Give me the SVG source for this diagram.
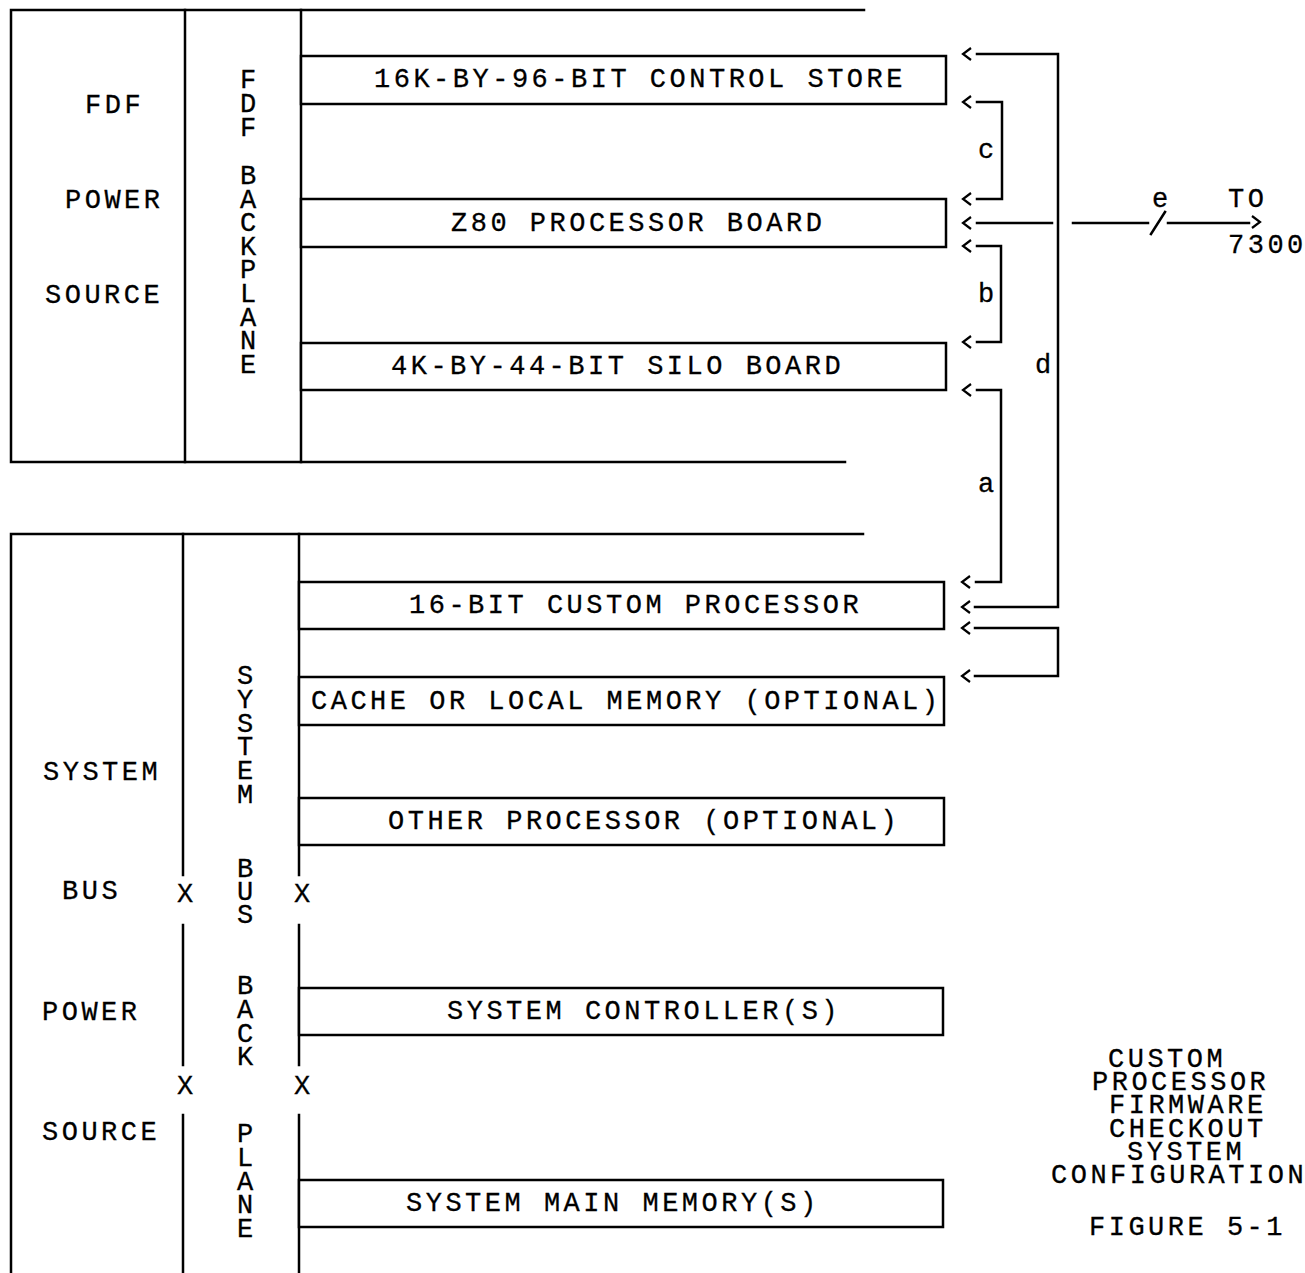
<svg xmlns="http://www.w3.org/2000/svg" xmlns:xlink="http://www.w3.org/1999/xlink" width="1305" height="1273" viewBox="0 0 1305 1273">
<style>
.ln{stroke:#000;stroke-width:2.5;fill:none;stroke-linecap:square}
.bx{stroke:#000;stroke-width:2.5;fill:#fff}
.t{font-family:"Liberation Mono","Courier New",monospace;font-size:27px;letter-spacing:3.5px;fill:#000;stroke:#000;stroke-width:0.3}
.v{font-family:"Liberation Mono","Courier New",monospace;font-size:27px;text-anchor:middle;fill:#000;stroke:#000;stroke-width:0.3}
</style>
<defs>
<path id="chev" d="M8,-6 L0,0 L8,6" stroke="#000" stroke-width="2.2" fill="none"/>
</defs>
<rect width="1305" height="1273" fill="#fff"/>

<!-- Upper FDF chassis -->
<g id="fdf-frame">
<path class="ln" d="M11,10 H864 M11,462 H845 M11,10 V462"/>
</g>
<g id="fdf-power-source">
<text class="t" x="85" y="113">FDF</text>
<text class="t" x="65" y="208">POWER</text>
<text class="t" x="45" y="303">SOURCE</text>
</g>
<g id="fdf-backplane">
<path class="ln" d="M185,10 V462 M301,10 V462"/>
<text class="v"><tspan x="248" y="88">F</tspan><tspan x="248" y="112">D</tspan><tspan x="248" y="136">F</tspan><tspan x="248" y="184">B</tspan><tspan x="248" y="207.6">A</tspan><tspan x="248" y="231.2">C</tspan><tspan x="248" y="254.8">K</tspan><tspan x="248" y="278.4">P</tspan><tspan x="248" y="302">L</tspan><tspan x="248" y="325.6">A</tspan><tspan x="248" y="349.2">N</tspan><tspan x="248" y="372.8">E</tspan></text>
</g>
<g id="control-store">
<rect class="bx" x="301" y="56" width="645" height="48"/>
<text class="t" x="374" y="87">16K-BY-96-BIT CONTROL STORE</text>
</g>
<g id="z80-board">
<rect class="bx" x="301" y="199" width="645" height="48"/>
<text class="t" x="451" y="230.5">Z80 PROCESSOR BOARD</text>
</g>
<g id="silo-board">
<rect class="bx" x="301" y="343" width="645" height="47"/>
<text class="t" x="391" y="374">4K-BY-44-BIT SILO BOARD</text>
</g>

<!-- Lower system chassis -->
<g id="system-frame">
<path class="ln" d="M11,534 H863 M11,534 V1273"/>
</g>
<g id="system-bus-power-source">
<text class="t" x="43" y="780">SYSTEM</text>
<text class="t" x="62" y="899">BUS</text>
<text class="t" x="42" y="1020">POWER</text>
<text class="t" x="42" y="1140">SOURCE</text>
</g>
<g id="system-bus-backplane">
<path class="ln" d="M183,534 V875 M183,925 V1065 M183,1115 V1273 M299,534 V875 M299,925 V1065 M299,1115 V1273"/>
<text class="v"><tspan x="185" y="902">X</tspan><tspan x="302" y="902">X</tspan><tspan x="185" y="1094">X</tspan><tspan x="302" y="1094">X</tspan></text>
<text class="v"><tspan x="245" y="684">S</tspan><tspan x="245" y="707.8">Y</tspan><tspan x="245" y="731.6">S</tspan><tspan x="245" y="755.4">T</tspan><tspan x="245" y="779.2">E</tspan><tspan x="245" y="803">M</tspan><tspan x="245" y="877">B</tspan><tspan x="245" y="900">U</tspan><tspan x="245" y="923">S</tspan><tspan x="245" y="994">B</tspan><tspan x="245" y="1018">A</tspan><tspan x="245" y="1041.5">C</tspan><tspan x="245" y="1065">K</tspan><tspan x="245" y="1142">P</tspan><tspan x="245" y="1166">L</tspan><tspan x="245" y="1189.5">A</tspan><tspan x="245" y="1213">N</tspan><tspan x="245" y="1236.5">E</tspan></text>
</g>
<g id="custom-processor">
<rect class="bx" x="299" y="582" width="645" height="47"/>
<text class="t" x="409" y="613">16-BIT CUSTOM PROCESSOR</text>
</g>
<g id="cache-memory">
<rect class="bx" x="299" y="677" width="645" height="48"/>
<text class="t" x="311" y="708.5">CACHE OR LOCAL MEMORY (OPTIONAL)</text>
</g>
<g id="other-processor">
<rect class="bx" x="299" y="798" width="645" height="47"/>
<text class="t" x="388" y="829">OTHER PROCESSOR (OPTIONAL)</text>
</g>
<g id="system-controller">
<rect class="bx" x="299" y="988" width="644" height="47"/>
<text class="t" x="447" y="1019">SYSTEM CONTROLLER(S)</text>
</g>
<g id="system-main-memory">
<rect class="bx" x="299" y="1180" width="644" height="47"/>
<text class="t" x="406" y="1211">SYSTEM MAIN MEMORY(S)</text>
</g>

<!-- Connectors -->
<g id="connectors">
<path class="ln" d="M977,102 H1002 V199 H977"/>
<path class="ln" d="M977,246 H1001 V342 H977"/>
<path class="ln" d="M977,390 H1001 V582 H976"/>
<path class="ln" d="M977,54 H1058 V607 H975"/>
<path class="ln" d="M975,628 H1058 V676 H975"/>
<path class="ln" d="M977,223 H1052 M1073,223 H1148 M1151,234 L1165,212 M1168,223 H1249"/>
<path d="M1252,216 L1260,222 L1252,228" stroke="#000" stroke-width="2.2" fill="none"/>
<use xlink:href="#chev" x="963" y="54"/>
<use xlink:href="#chev" x="963" y="102"/>
<use xlink:href="#chev" x="963" y="199"/>
<use xlink:href="#chev" x="963" y="223"/>
<use xlink:href="#chev" x="963" y="246"/>
<use xlink:href="#chev" x="963" y="342"/>
<use xlink:href="#chev" x="963" y="390"/>
<use xlink:href="#chev" x="962" y="582"/>
<use xlink:href="#chev" x="962" y="607"/>
<use xlink:href="#chev" x="962" y="628"/>
<use xlink:href="#chev" x="962" y="676"/>
<text class="t" x="978" y="158">c</text>
<text class="t" x="978" y="302">b</text>
<text class="t" x="978" y="492">a</text>
<text class="t" x="1035" y="373">d</text>
<text class="t" x="1152" y="207">e</text>
<text class="t" x="1228" y="207">TO</text>
<text class="t" x="1228" y="253">7300</text>
</g>

<!-- Caption -->
<g id="caption">
<text class="t" x="1108" y="1067">CUSTOM</text>
<text class="t" x="1092" y="1090">PROCESSOR</text>
<text class="t" x="1109" y="1113">FIRMWARE</text>
<text class="t" x="1109" y="1137">CHECKOUT</text>
<text class="t" x="1127" y="1160">SYSTEM</text>
<text class="t" x="1051" y="1183">CONFIGURATION</text>
<text class="t" x="1089" y="1235">FIGURE 5-1</text>
</g>
</svg>
